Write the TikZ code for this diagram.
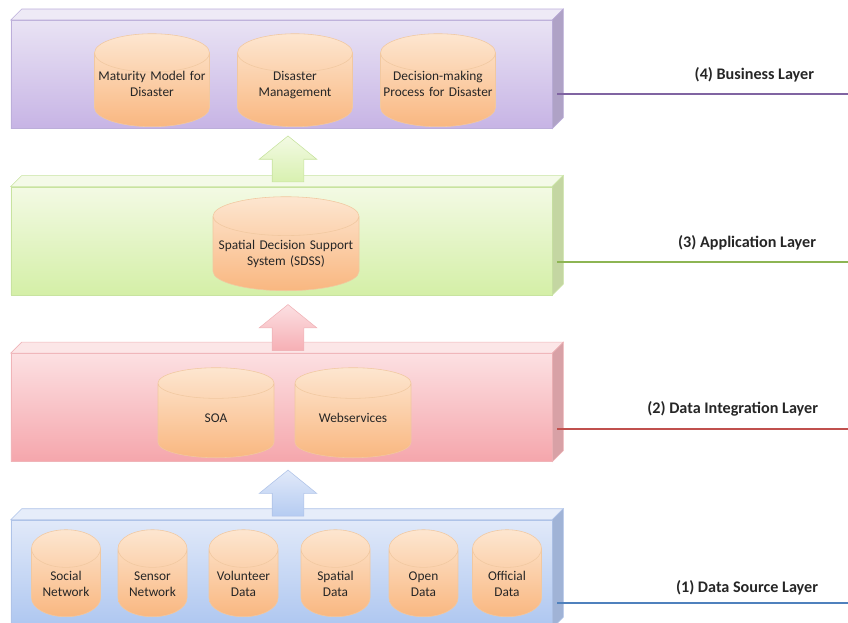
\documentclass[tikz,border=0pt]{standalone}
\usepackage{fontspec}
\setmainfont{Carlito}
\usetikzlibrary{positioning,calc,shapes.geometric,shapes.arrows}
\definecolor{ink}{HTML}{262626}
\definecolor{hipurple}{HTML}{E9E3F4}
\definecolor{lopurple}{HTML}{C7B4E5}
\definecolor{toppurple}{HTML}{EEEAF6}
\definecolor{sidepurple}{HTML}{AFA2C6}
\definecolor{edgepurple}{HTML}{BCAEDA}
\definecolor{linepurple}{HTML}{8064A2}
\definecolor{higreen}{HTML}{F3FAE4}
\definecolor{logreen}{HTML}{D4EFA7}
\definecolor{topgreen}{HTML}{F4FAE8}
\definecolor{sidegreen}{HTML}{C4D6A2}
\definecolor{edgegreen}{HTML}{C8E3A0}
\definecolor{linegreen}{HTML}{8DB553}
\definecolor{hired}{HTML}{FCE0E2}
\definecolor{lored}{HTML}{F5A6AC}
\definecolor{topred}{HTML}{FCE6E7}
\definecolor{sidered}{HTML}{D8A1A6}
\definecolor{edgered}{HTML}{F0B4B8}
\definecolor{linered}{HTML}{C0504D}
\definecolor{hiblue}{HTML}{E1E9F9}
\definecolor{loblue}{HTML}{ADC6F0}
\definecolor{topblue}{HTML}{E6EDFA}
\definecolor{sideblue}{HTML}{A0B3D6}
\definecolor{edgeblue}{HTML}{AFC3E8}
\definecolor{lineblue}{HTML}{4F81BD}
\definecolor{dbhi}{HTML}{FDE6D0}
\definecolor{dblo}{HTML}{F9B780}
\definecolor{dbedge}{HTML}{F1C8A0}

\begin{document}
\begin{tikzpicture}[x=0.25mm,y=-0.25mm,
 layer/.style={draw=edge#1,top color=hi#1,bottom color=lo#1,minimum width=135.25mm,minimum height=27mm,inner sep=0pt},
 db/.style 2 args={cylinder,shape border rotate=90,anchor=south,draw=dbedge,top color=dbhi,bottom color=dblo,minimum width=#1,aspect=#2,align=center,inner sep=1pt,text=ink,font=\fontsize{9.5}{11.5}\selectfont},
 lift/.style={single arrow,shape border rotate=90,draw=edge#1,top color=hi#1,bottom color=lo#1!90,minimum height=11.5mm,inner sep=3.875mm,single arrow head extend=3.25mm,single arrow tip angle=102},
 tag/.style={anchor=base east,text=ink,font=\fontsize{11.5}{14}\selectfont\bfseries}]
 \useasboundingbox (0,0) rectangle (848,622);
 \clip (0,0) rectangle (848,622);
 \node[layer=blue] (l1) at (281.5,574) {};
 \node[layer=red,above=14.5mm of l1] (l2) {};
 \node[layer=green,above=14.5mm of l2] (l3) {};
 \node[layer=purple,above=14.5mm of l3] (l4) {};
 \foreach \l/\c in {l1/blue,l2/red,l3/green,l4/purple}{
  \filldraw[fill=top\c,draw=edge\c] (\l.north west) -- ++(11,-11) -- ($(\l.north east)+(11,-11)$) -- (\l.north east) -- cycle;
  \filldraw[fill=side\c,draw=edge\c] (\l.north east) -- ++(11,-11) -- ($(\l.south east)+(11,-11)$) -- (\l.south east) -- cycle;
 }
 % business layer
 \foreach \x/\n/\t in {152/mm/Maturity Model for\\Disaster,295/dm/Disaster\\Management,438/dp/Decision-making\\Process for Disaster}
  \node[db={28.75mm}{0.34},minimum height=23.25mm,text width=27.5mm,text height=2pt,text depth=19pt] (\n) at (\x,127) {\t};
 % application layer
 \node[db={36.5mm}{0.28},minimum height=23.5mm,text width=34mm,text height=6pt,text depth=15pt] (sdss) at (286,291) {Spatial Decision Support\\System (SDSS)};
 % data integration layer
 \node[db={29mm}{0.37},minimum height=22.5mm,text width=20mm,text height=5pt,text depth=4pt] (soa) at (216,458) {SOA};
 \node[db={29mm}{0.37},minimum height=22.5mm,text width=20mm,text height=5pt,text depth=4pt] (ws) at (353,458) {Webservices};
 % data source layer
 \foreach \x/\n/\t in {66/sn/Social\\Network,152.5/se/Sensor\\Network,243.5/vd/Volunteer\\Data,335.5/sd/Spatial\\Data,423.5/od/Open\\Data,507/of/Official\\Data}
  \node[db={17.25mm}{0.64},minimum height=21.75mm,text width=14mm,text height=7pt,text depth=14pt] (\n) at (\x,617) {\t};
 \node[lift=blue,anchor=tip] (a1) at ($(l2.south)+(6.5,8)$) {};
 \node[lift=red,anchor=tip] (a2) at ($(l3.south)+(6.5,9)$) {};
 \node[lift=green,anchor=tip] (a3) at ($(l4.south)+(6.5,7)$) {};
 \foreach \k/\c/\y in {4/purple/94,3/green/262,2/red/429,1/blue/603}{
  \coordinate (p\k) at (557,\y);
  \coordinate (q\k) at (848,\y);
  \draw[line\c,line width=1.4pt] (p\k) -- (q\k);
 }
 \node[tag] (t4) at (819,79) {(4) Business Layer};
 \node[tag] (t3) at (821,247) {(3) Application Layer};
 \node[tag] (t2) at (823,413) {(2) Data Integration Layer};
 \node[tag] (t1) at (823,592) {(1) Data Source Layer};
\end{tikzpicture}
\end{document}
